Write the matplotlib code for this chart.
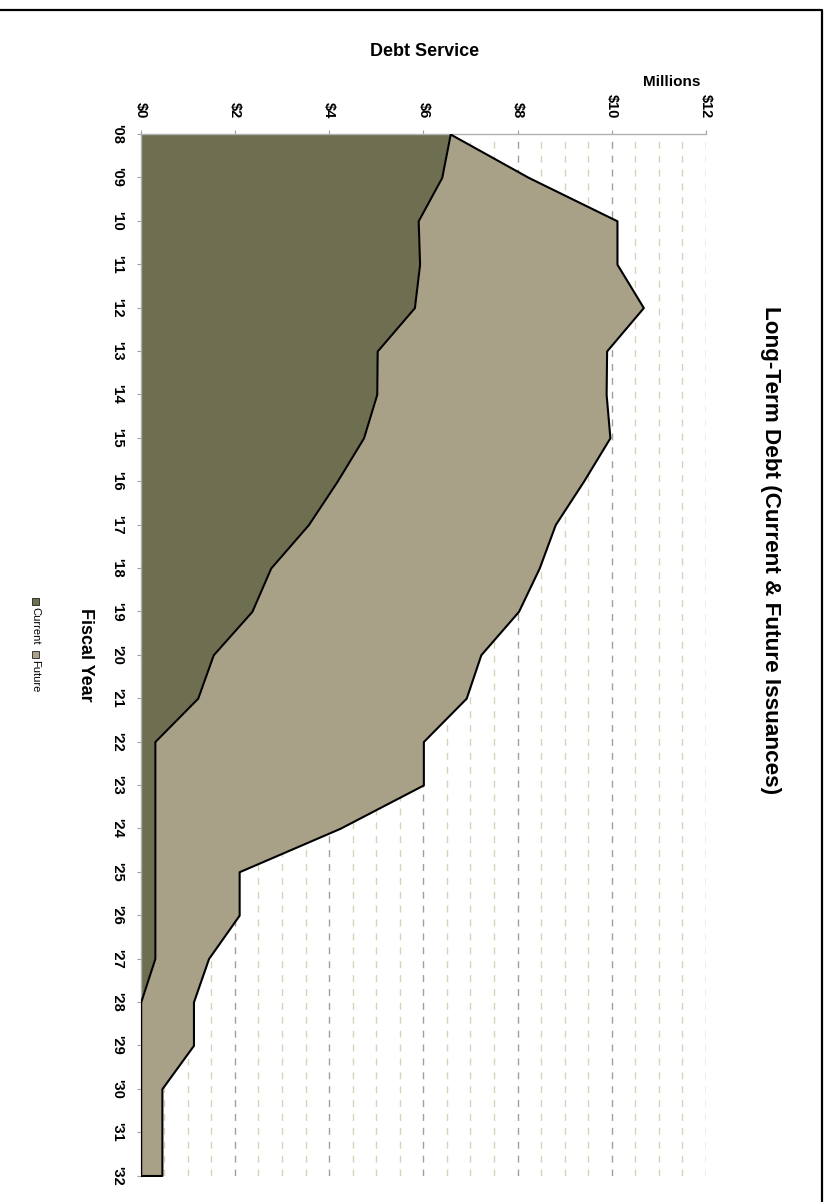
import matplotlib
matplotlib.use("Agg")
import matplotlib.pyplot as plt
from matplotlib.lines import Line2D
from matplotlib.patches import Rectangle

years = ["'08", "'09", "'10", "'11", "'12", "'13", "'14", "'15", "'16", "'17",
         "'18", "'19", "'20", "'21", "'22", "'23", "'24", "'25", "'26", "'27",
         "'28", "'29", "'30", "'31", "'32"]
# millions of dollars
current = [6.57, 6.39, 5.89, 5.92, 5.81, 5.02, 5.01, 4.73, 4.17, 3.56,
           2.76, 2.36, 1.54, 1.21, 0.30, 0.30, 0.30, 0.30, 0.30, 0.30,
           0.0, 0.0, 0.0, 0.0, 0.0]
total = [6.57, 8.23, 10.11, 10.11, 10.67, 9.89, 9.88, 9.96, 9.40, 8.80,
         8.46, 8.02, 7.22, 6.91, 6.00, 6.00, 4.23, 2.09, 2.09, 1.44,
         1.12, 1.12, 0.45, 0.45, 0.45]
value_ticks = [0, 2, 4, 6, 8, 10, 12]
value_labels = ["$0", "$2", "$4", "$6", "$8", "$10", "$12"]

dark = "#6e6f50"
light = "#a8a188"
W, H = 824, 1202
font = ["Liberation Sans", "DejaVu Sans"]
plt.rcParams["font.family"] = font


def fx(px):
    return px / W


def fy(py):
    return 1 - py / H


fig = plt.figure(figsize=(W / 100, H / 100), dpi=100)
ax = fig.add_axes([fx(140.7), fy(1175.5), fx(706) - fx(140.7), fy(134) - fy(1175.5)])

pos = list(range(len(years)))
ax.fill_betweenx(pos, 0, current, facecolor=dark, edgecolor="none", zorder=1)
ax.fill_betweenx(pos, current, total, facecolor=light, edgecolor="black",
                 linewidth=1.5, zorder=3)

ax.set_xlim(0, 12)
ax.set_ylim(len(years) - 1, 0)

# value axis on top, years down the left side
ax.xaxis.tick_top()
ax.set_xticks(value_ticks)
ax.set_xticklabels(value_labels, rotation=-90, ha="center", va="bottom",
                   fontsize=10.5, fontweight="bold")
ax.set_xticks([v / 2 for v in range(1, 24)], minor=True)
ax.tick_params(axis="x", which="major", direction="out", length=3, pad=8,
               color="#a0a0a0")
ax.tick_params(axis="x", which="minor", length=0)
ax.set_yticks(pos)
ax.set_yticklabels(years, rotation=-90, ha="right", va="center",
                   fontsize=10.5, fontweight="bold")
ax.tick_params(axis="y", direction="out", length=3, pad=9, color="#a0a0a0")

ax.grid(axis="x", which="minor", color="#d8d2b8", linestyle=(0, (5, 5)),
        linewidth=1, zorder=0)
ax.grid(axis="x", which="major", color="#a0a098", linestyle=(0, (5, 5)),
        linewidth=1, zorder=0)
ax.set_axisbelow(True)

for side in ["right", "bottom"]:
    ax.spines[side].set_visible(False)
for side in ["top", "left"]:
    ax.spines[side].set_color("#b0b0b0")
    ax.spines[side].set_linewidth(1)

# titles
fig.text(fx(425), fy(52), "Debt Service", ha="center", va="center",
         fontsize=13, fontweight="bold")
fig.text(fx(700), fy(82), "Millions", ha="right", va="center",
         fontsize=11, fontweight="bold")
fig.text(fx(770), fy(550), "Long-Term Debt (Current & Future Issuances)",
         rotation=-90, ha="center", va="center", fontsize=16.2, fontweight="bold")
fig.text(fx(85), fy(655), "Fiscal Year", rotation=-90, ha="center",
         va="center", fontsize=13, fontweight="bold")

# legend, rotated like the rest
sq = 7
fig.patches.append(Rectangle((fx(32), fy(598 + sq)), sq / W, sq / H,
                             facecolor=dark, edgecolor="black", linewidth=0.5,
                             transform=fig.transFigure))
fig.text(fx(35.5), fy(607), "Current", rotation=-90, ha="center", va="top",
         fontsize=8)
fig.patches.append(Rectangle((fx(32), fy(651 + sq)), sq / W, sq / H,
                             facecolor=light, edgecolor="black", linewidth=0.5,
                             transform=fig.transFigure))
fig.text(fx(35.5), fy(660), "Future", rotation=-90, ha="center", va="top",
         fontsize=8)

# chart border (top and right edges)
fig.lines.append(Line2D([0, fx(822), fx(822)], [fy(10), fy(10), 0],
                        color="black", linewidth=1.6, transform=fig.transFigure))

fig.savefig("out.png", dpi=100)
